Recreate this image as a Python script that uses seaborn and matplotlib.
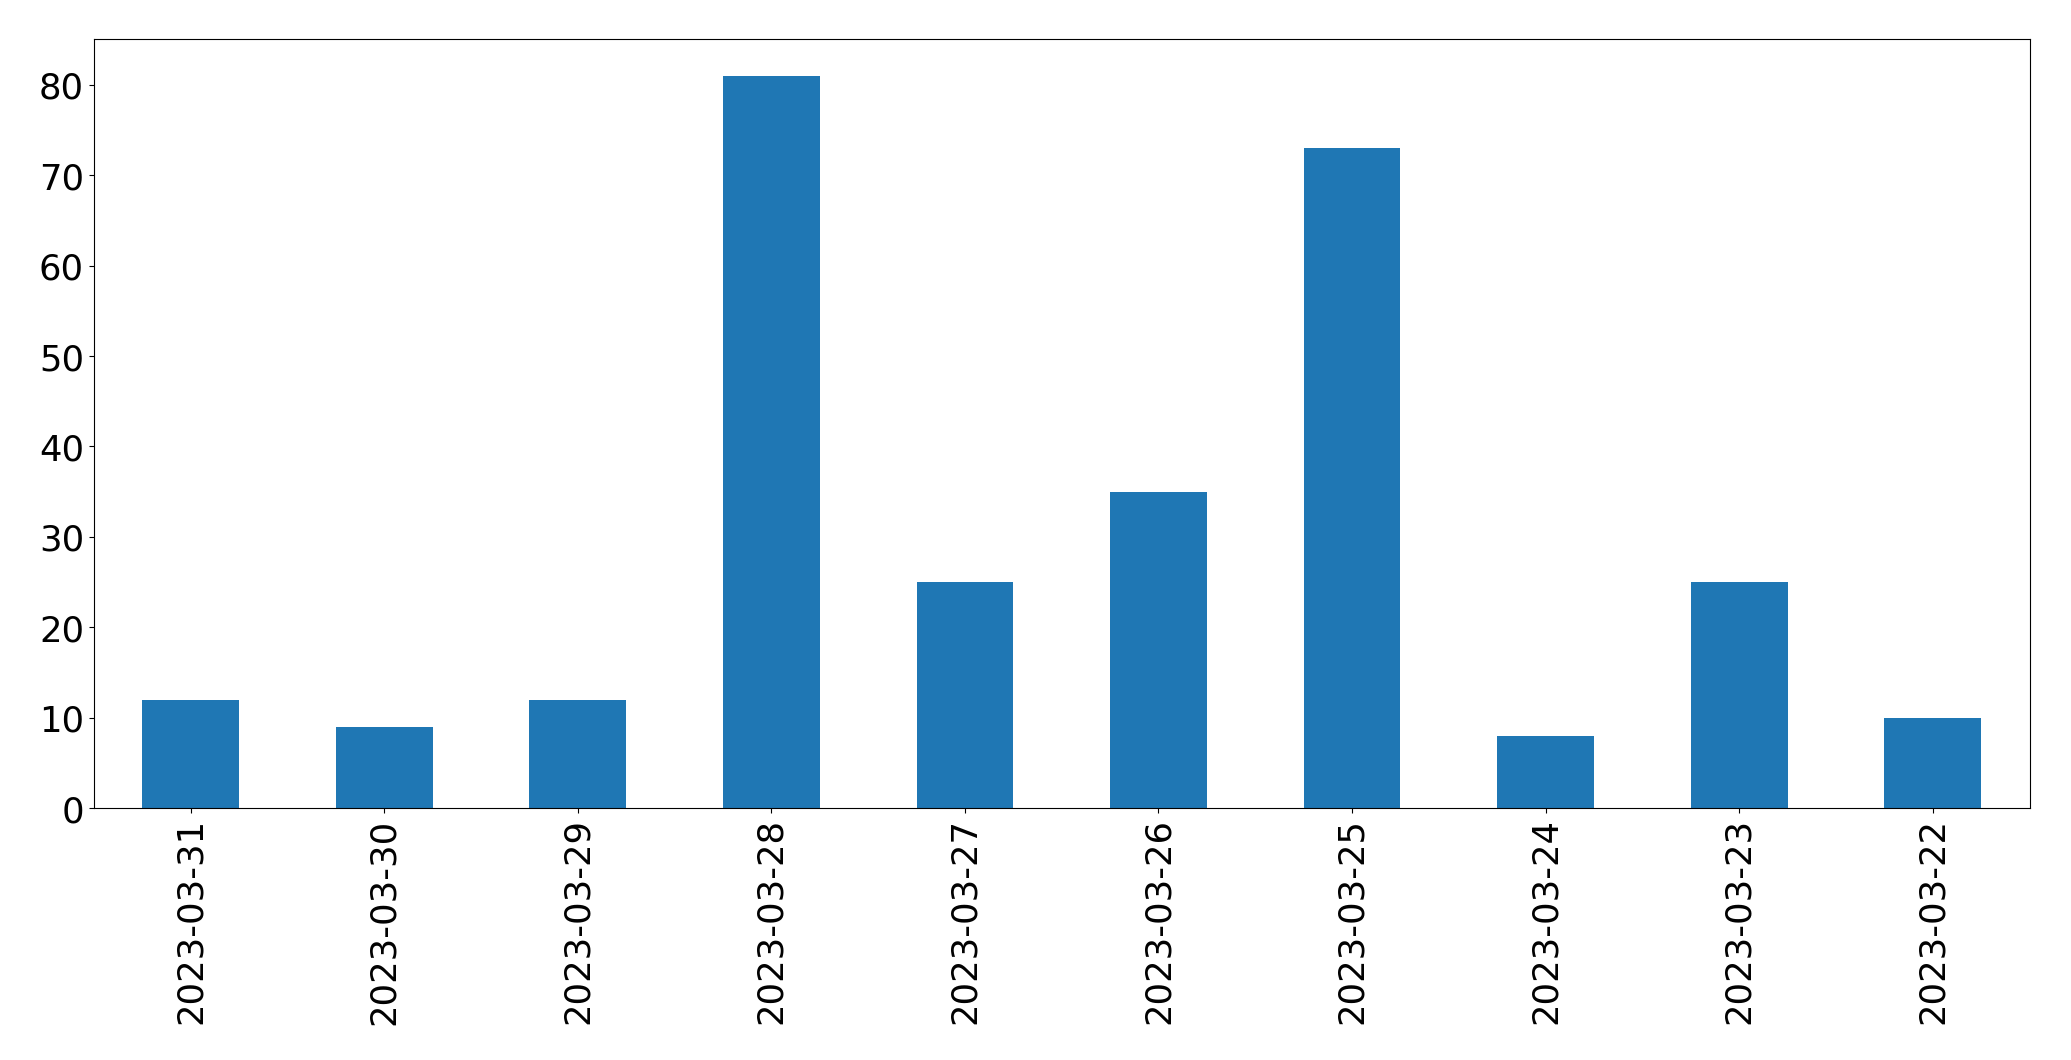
import matplotlib
matplotlib.use("Agg")
import matplotlib.pyplot as plt
import seaborn as sns
import pandas as pd

dates = ["2023-03-31", "2023-03-30", "2023-03-29", "2023-03-28", "2023-03-27",
         "2023-03-26", "2023-03-25", "2023-03-24", "2023-03-23", "2023-03-22"]
counts = [12, 9, 12, 81, 25, 35, 73, 8, 25, 10]

df = pd.DataFrame({"date": dates, "count": counts})

fig = plt.figure(figsize=(20.71, 10.605), dpi=100)
ax = fig.add_axes([0.0453, 0.2375, 0.9347, 0.7252])
sns.barplot(data=df, x="date", y="count", order=dates, color="#1f77b4",
            saturation=1, width=0.5, linewidth=0, ax=ax)
ax.set_xlim(-0.5, len(dates) - 0.5)
ax.set_ylim(0, max(counts) * 1.05)
ax.set_xlabel("")
ax.set_ylabel("")
ax.tick_params(axis="both", labelsize=25.5)
plt.setp(ax.get_xticklabels(), rotation=90)
for s in ax.spines.values():
    s.set_visible(True)
fig.savefig("out.png", dpi=100)
